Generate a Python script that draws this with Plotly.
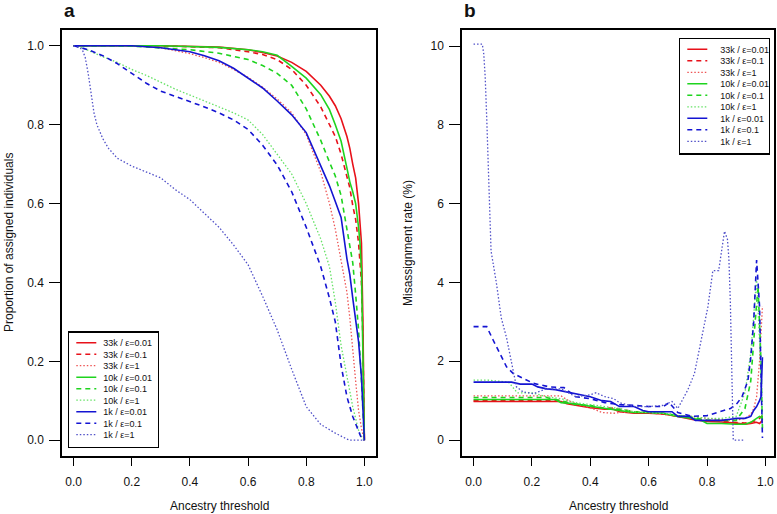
import plotly.graph_objects as go

# ---------------- data ----------------
labels = ["33k / ε=0.01", "33k / ε=0.1", "33k / ε=1",
          "10k / ε=0.01", "10k / ε=0.1", "10k / ε=1",
          "1k / ε=0.01", "1k / ε=0.1", "1k / ε=1"]

# Panel a: proportion of assigned individuals vs ancestry threshold
a_33k_001_x = [0, 0.3, 0.5, 0.6, 0.65, 0.7, 0.75, 0.8, 0.85, 0.88, 0.9, 0.92, 0.94, 0.95, 0.96, 0.97, 0.98, 0.985, 0.99, 0.995, 1.0]
a_33k_001_y = [1.0, 1.0, 0.997, 0.99, 0.983, 0.974, 0.958, 0.935, 0.9, 0.872, 0.848, 0.815, 0.77, 0.74, 0.70, 0.665, 0.6, 0.56, 0.5, 0.3, 0.0]
a_33k_01_x = [0, 0.3, 0.5, 0.6, 0.65, 0.7, 0.75, 0.8, 0.85, 0.88, 0.9, 0.92, 0.94, 0.95, 0.96, 0.97, 0.98, 0.985, 0.99, 0.995, 1.0]
a_33k_01_y = [1.0, 1.0, 0.995, 0.985, 0.978, 0.965, 0.94, 0.9, 0.845, 0.8, 0.77, 0.725, 0.67, 0.64, 0.595, 0.56, 0.5, 0.46, 0.4, 0.25, 0.0]
a_33k_1_x = [0, 0.2, 0.3, 0.4, 0.45, 0.5, 0.55, 0.6, 0.65, 0.7, 0.75, 0.8, 0.85, 0.88, 0.9, 0.92, 0.94, 0.95, 0.96, 0.97, 0.98, 0.99, 1.0]
a_33k_1_y = [1.0, 1.0, 0.995, 0.98, 0.97, 0.958, 0.94, 0.92, 0.895, 0.865, 0.83, 0.775, 0.68, 0.6, 0.535, 0.455, 0.375, 0.31, 0.22, 0.15, 0.076, 0.03, 0.0]
a_10k_001_x = [0, 0.3, 0.5, 0.6, 0.65, 0.7, 0.75, 0.8, 0.85, 0.88, 0.9, 0.92, 0.94, 0.95, 0.96, 0.97, 0.98, 0.985, 0.99, 0.995, 1.0]
a_10k_001_y = [1.0, 1.0, 0.996, 0.99, 0.985, 0.976, 0.948, 0.918, 0.876, 0.838, 0.8, 0.758, 0.69, 0.655, 0.63, 0.6, 0.54, 0.5, 0.43, 0.25, 0.0]
a_10k_01_x = [0, 0.2, 0.4, 0.5, 0.6, 0.65, 0.7, 0.75, 0.8, 0.85, 0.88, 0.9, 0.92, 0.94, 0.95, 0.96, 0.97, 0.98, 0.99, 0.995, 1.0]
a_10k_01_y = [1.0, 0.999, 0.99, 0.981, 0.965, 0.95, 0.93, 0.9, 0.84, 0.76, 0.705, 0.67, 0.62, 0.54, 0.5, 0.45, 0.37, 0.28, 0.15, 0.08, 0.0]
a_10k_1_x = [0, 0.03, 0.06, 0.1, 0.15, 0.2, 0.25, 0.3, 0.35, 0.4, 0.45, 0.5, 0.55, 0.6, 0.65, 0.7, 0.75, 0.8, 0.85, 0.88, 0.9, 0.92, 0.94, 0.96, 0.98, 0.99, 1.0]
a_10k_1_y = [1.0, 0.995, 0.985, 0.972, 0.958, 0.94, 0.925, 0.907, 0.89, 0.875, 0.86, 0.845, 0.83, 0.812, 0.775, 0.725, 0.675, 0.6, 0.51, 0.44, 0.35, 0.24, 0.16, 0.085, 0.025, 0.008, 0.0]
a_1k_001_x = [0, 0.2, 0.3, 0.35, 0.4, 0.45, 0.5, 0.55, 0.6, 0.65, 0.7, 0.75, 0.8, 0.85, 0.88, 0.9, 0.92, 0.94, 0.95, 0.96, 0.97, 0.98, 0.99, 0.995, 1.0]
a_1k_001_y = [1.0, 1.0, 0.995, 0.99, 0.985, 0.975, 0.962, 0.943, 0.918, 0.893, 0.86, 0.825, 0.78, 0.695, 0.645, 0.605, 0.565, 0.46, 0.42, 0.36, 0.3, 0.25, 0.16, 0.07, 0.0]
a_1k_01_x = [0, 0.05, 0.1, 0.15, 0.2, 0.25, 0.3, 0.35, 0.4, 0.45, 0.5, 0.55, 0.6, 0.65, 0.7, 0.75, 0.8, 0.85, 0.88, 0.9, 0.92, 0.94, 0.96, 0.98, 0.99, 1.0]
a_1k_01_y = [1.0, 0.99, 0.975, 0.955, 0.93, 0.905, 0.885, 0.872, 0.86, 0.845, 0.83, 0.812, 0.788, 0.748, 0.698, 0.63, 0.54, 0.44, 0.36, 0.3, 0.19, 0.11, 0.06, 0.02, 0.005, 0.0]
a_1k_1_x = [0, 0.02, 0.03, 0.04, 0.05, 0.06, 0.07, 0.08, 0.09, 0.1, 0.12, 0.15, 0.2, 0.25, 0.3, 0.35, 0.4, 0.45, 0.5, 0.55, 0.6, 0.65, 0.7, 0.75, 0.8, 0.85, 0.9, 0.94, 0.95, 1.0]
a_1k_1_y = [1.0, 0.995, 0.99, 0.97, 0.93, 0.88, 0.83, 0.80, 0.78, 0.765, 0.74, 0.715, 0.695, 0.68, 0.665, 0.635, 0.61, 0.575, 0.54, 0.495, 0.445, 0.365, 0.28, 0.18, 0.085, 0.04, 0.018, 0.003, 0.0, 0.0]

# Panel b: misassignment rate (%) vs ancestry threshold
b_33k_001_x = [0, 0.3, 0.32, 0.35, 0.4, 0.45, 0.48, 0.5, 0.55, 0.6, 0.65, 0.7, 0.75, 0.8, 0.85, 0.9, 0.93, 0.95, 0.97, 0.98, 0.99]
b_33k_001_y = [0.98, 0.98, 0.92, 0.88, 0.82, 0.78, 0.78, 0.72, 0.68, 0.68, 0.66, 0.6, 0.52, 0.47, 0.46, 0.43, 0.40, 0.42, 0.45, 0.42, 0.5]
b_33k_01_x = [0, 0.3, 0.32, 0.35, 0.4, 0.45, 0.48, 0.5, 0.55, 0.6, 0.65, 0.7, 0.75, 0.8, 0.85, 0.9, 0.93, 0.95, 0.97, 0.98, 0.99]
b_33k_01_y = [1.0, 1.0, 0.95, 0.9, 0.85, 0.8, 0.82, 0.78, 0.72, 0.7, 0.66, 0.6, 0.55, 0.5, 0.48, 0.45, 0.43, 0.45, 0.5, 0.55, 0.62]
b_33k_1_x = [0, 0.3, 0.33, 0.36, 0.4, 0.44, 0.48, 0.5, 0.55, 0.6, 0.65, 0.7, 0.75, 0.8, 0.85, 0.9, 0.93, 0.95, 0.96, 0.97, 0.98, 0.99]
b_33k_1_y = [1.12, 1.12, 0.98, 0.9, 0.82, 0.7, 0.68, 0.7, 0.7, 0.7, 0.68, 0.62, 0.6, 0.55, 0.52, 0.5, 0.55, 0.65, 0.8, 1.1, 2.0, 3.4]
b_10k_001_x = [0, 0.28, 0.3, 0.35, 0.4, 0.45, 0.5, 0.55, 0.6, 0.65, 0.7, 0.75, 0.78, 0.8, 0.85, 0.9, 0.93, 0.95, 0.97, 0.98, 0.99]
b_10k_001_y = [1.03, 1.03, 0.95, 0.92, 0.86, 0.8, 0.75, 0.7, 0.7, 0.68, 0.6, 0.55, 0.5, 0.42, 0.42, 0.4, 0.4, 0.45, 0.55, 0.6, 0.55]
b_10k_01_x = [0, 0.25, 0.3, 0.35, 0.4, 0.45, 0.5, 0.55, 0.6, 0.65, 0.7, 0.75, 0.8, 0.85, 0.9, 0.93, 0.95, 0.965, 0.975, 0.985, 0.99]
b_10k_01_y = [1.08, 1.08, 1.0, 0.9, 0.88, 0.8, 0.78, 0.72, 0.7, 0.68, 0.62, 0.58, 0.5, 0.5, 0.5, 0.8, 1.5, 3.0, 3.9, 2.0, 0.3]
b_10k_1_x = [0, 0.05, 0.12, 0.15, 0.2, 0.25, 0.3, 0.35, 0.4, 0.45, 0.5, 0.55, 0.6, 0.65, 0.7, 0.75, 0.8, 0.85, 0.9, 0.93, 0.95, 0.97, 0.98, 0.99]
b_10k_1_y = [1.52, 1.52, 1.47, 1.2, 1.2, 1.1, 1.05, 0.95, 0.9, 0.85, 0.8, 0.72, 0.7, 0.68, 0.62, 0.6, 0.55, 0.55, 0.6, 1.2, 2.2, 4.1, 2.5, 0.6]
b_1k_001_x = [0, 0.13, 0.16, 0.2, 0.22, 0.25, 0.28, 0.3, 0.34, 0.37, 0.4, 0.44, 0.47, 0.5, 0.55, 0.58, 0.6, 0.65, 0.68, 0.7, 0.74, 0.76, 0.8, 0.85, 0.88, 0.9, 0.93, 0.95, 0.96, 0.97, 0.98, 0.985, 0.99]
b_1k_001_y = [1.47, 1.47, 1.42, 1.42, 1.35, 1.3, 1.28, 1.25, 1.18, 1.15, 1.1, 1.0, 0.98, 0.85, 0.85, 0.75, 0.72, 0.72, 0.72, 0.6, 0.6, 0.5, 0.5, 0.5, 0.53, 0.55, 0.55, 0.6, 0.75, 0.85, 1.0, 1.1, 2.1]
b_1k_01_x = [0, 0.045, 0.067, 0.09, 0.113, 0.136, 0.17, 0.205, 0.26, 0.31, 0.35, 0.4, 0.45, 0.5, 0.55, 0.6, 0.65, 0.67, 0.7, 0.75, 0.8, 0.84, 0.88, 0.9, 0.92, 0.94, 0.95, 0.96, 0.97, 0.98, 0.985, 0.99]
b_1k_01_y = [2.88, 2.88, 2.54, 2.2, 1.86, 1.69, 1.57, 1.44, 1.35, 1.33, 1.1, 1.05, 0.95, 0.9, 0.88, 0.85, 0.85, 0.95, 0.7, 0.6, 0.62, 0.7, 0.8, 0.9, 1.1, 1.5, 2.1, 3.0, 4.57, 3.4, 1.7, 0.05]
b_1k_1_x = [0, 0.03, 0.035, 0.04, 0.045, 0.05, 0.055, 0.06, 0.078, 0.095, 0.113, 0.124, 0.136, 0.147, 0.17, 0.205, 0.25, 0.3, 0.35, 0.4, 0.42, 0.45, 0.48, 0.5, 0.55, 0.6, 0.65, 0.68, 0.7, 0.734, 0.757, 0.78, 0.803, 0.82, 0.84, 0.85, 0.86, 0.87, 0.875, 0.88, 0.885, 0.89, 0.93]
b_1k_1_y = [10.05, 10.05, 9.8, 9.2, 8.2, 7.2, 6.0, 4.8, 4.0, 3.1, 2.6, 2.2, 1.69, 1.35, 1.22, 1.18, 1.3, 1.3, 1.1, 1.15, 1.2, 1.1, 1.05, 0.95, 0.85, 0.85, 0.88, 0.98, 0.8, 1.27, 1.69, 2.54, 3.38, 4.3, 4.3, 4.8, 5.3, 5.1, 4.6, 3.5, 1.5, 0.0, 0.0]

panel_a = [(a_33k_001_x, a_33k_001_y), (a_33k_01_x, a_33k_01_y), (a_33k_1_x, a_33k_1_y),
           (a_10k_001_x, a_10k_001_y), (a_10k_01_x, a_10k_01_y), (a_10k_1_x, a_10k_1_y),
           (a_1k_001_x, a_1k_001_y), (a_1k_01_x, a_1k_01_y), (a_1k_1_x, a_1k_1_y)]
panel_b = [(b_33k_001_x, b_33k_001_y), (b_33k_01_x, b_33k_01_y), (b_33k_1_x, b_33k_1_y),
           (b_10k_001_x, b_10k_001_y), (b_10k_01_x, b_10k_01_y), (b_10k_1_x, b_10k_1_y),
           (b_1k_001_x, b_1k_001_y), (b_1k_01_x, b_1k_01_y), (b_1k_1_x, b_1k_1_y)]

a_ticks = [0.0, 0.2, 0.4, 0.6, 0.8, 1.0]
a_tick_text = ["0.0", "0.2", "0.4", "0.6", "0.8", "1.0"]
b_yticks = [0, 2, 4, 6, 8, 10]
b_ytick_text = ["0", "2", "4", "6", "8", "10"]

# ---------------- styles ----------------
colors = ["#E8111A", "#E8111A", "#EE5555", "#1ED41E", "#1ED41E", "#66E266", "#1414D2", "#1414D2", "#5050C8"]
dashes = ["solid", "5px,4px", "1.5px,2px"] * 3
widths = [1.6, 1.6, 1.3] * 3
FONT = "Liberation Sans, Arial, Helvetica, sans-serif"

fig = go.Figure()
for i, (xs, ys) in enumerate(panel_a):
    fig.add_trace(go.Scatter(x=xs, y=ys, mode="lines", name=labels[i],
                             line=dict(color=colors[i], dash=dashes[i], width=widths[i]),
                             xaxis="x", yaxis="y", legend="legend"))
for i, (xs, ys) in enumerate(panel_b):
    fig.add_trace(go.Scatter(x=xs, y=ys, mode="lines", name=labels[i],
                             line=dict(color=colors[i], dash=dashes[i], width=widths[i]),
                             xaxis="x2", yaxis="y2", legend="legend2"))

W, H = 777, 514
ax_common = dict(showline=True, linecolor="black", linewidth=1.5, mirror=True,
                 ticks="outside", tickcolor="black", tickwidth=1.2,
                 showgrid=False, zeroline=False,
                 tickfont=dict(family=FONT, size=12, color="#111"))
ydom = [1 - 456 / H, 1 - 30 / H]

fig.update_layout(
    width=W, height=H,
    margin=dict(l=0, r=0, t=0, b=0),
    paper_bgcolor="white", plot_bgcolor="white",
    font=dict(family=FONT, color="#111"),
    xaxis=dict(domain=[62 / W, 376 / W], range=[-0.04, 1.04], tickvals=a_ticks, ticktext=a_tick_text,
               ticklen=8, ticklabelstandoff=6, anchor="y", **ax_common),
    yaxis=dict(domain=ydom, range=[-0.04, 1.04], tickvals=a_ticks, ticktext=a_tick_text,
               ticklen=11, ticklabelstandoff=3, anchor="x", **ax_common),
    xaxis2=dict(domain=[462 / W, 774 / W], range=[-0.0396, 1.0296], tickvals=a_ticks, ticktext=a_tick_text,
                ticklen=8, ticklabelstandoff=6, anchor="y2", **ax_common),
    yaxis2=dict(domain=ydom, range=[-0.405, 10.41], tickvals=b_yticks, ticktext=b_ytick_text,
                ticklen=11, ticklabelstandoff=3, anchor="x2", **ax_common),
    legend=dict(x=68 / W, y=1 - 448 / H, xanchor="left", yanchor="bottom",
                bgcolor="white", bordercolor="black", borderwidth=1.3,
                font=dict(family=FONT, size=9, color="#111"), itemwidth=30,
                tracegroupgap=0),
    legend2=dict(x=770 / W, y=1 - 38 / H, xanchor="right", yanchor="top",
                 bgcolor="white", bordercolor="black", borderwidth=1.3,
                 font=dict(family=FONT, size=9, color="#111"), itemwidth=30,
                 tracegroupgap=0),
    showlegend=True,
)

annotations = [
    dict(text="<b>a</b>", x=62 / W, y=1 - 10 / H, xanchor="left", yanchor="middle", font=dict(size=19)),
    dict(text="<b>b</b>", x=462 / W, y=1 - 10 / H, xanchor="left", yanchor="middle", font=dict(size=19)),
    dict(text="Ancestry threshold", x=219 / W, y=1 - 506 / H, xanchor="center", yanchor="middle", font=dict(size=12)),
    dict(text="Ancestry threshold", x=618 / W, y=1 - 506 / H, xanchor="center", yanchor="middle", font=dict(size=12)),
    dict(text="Proportion of assigned individuals", x=9 / W, y=1 - 243 / H, textangle=-90,
         xanchor="center", yanchor="middle", font=dict(size=12)),
    dict(text="Misassignment rate (%)", x=408 / W, y=1 - 243 / H, textangle=-90,
         xanchor="center", yanchor="middle", font=dict(size=12)),
]
for a in annotations:
    a.update(xref="paper", yref="paper", showarrow=False)
    a["font"].update(family=FONT, color="#111")
fig.update_layout(annotations=annotations)

# Page tweaks: no body margin; tighten legend row spacing (R-style compact legend)
post_js = r"""
document.body.style.margin='0';
document.body.style.overflow='hidden';
var gd = document.getElementById('{plot_id}');
var STEP = 11.5, TOP = 11.3, BOT = 12.0, SHIFT = 6;
var re = /translate\(\s*([-\d.e]+)[\s,]+([-\d.e]+)\s*\)/;
[['legend', 'bottom'], ['legend2', 'topright']].forEach(function(cfg){
  var leg = gd.querySelector('g.' + cfg[0]);
  if(!leg) return;
  var bg = leg.querySelector('rect.bg');
  var items = leg.querySelectorAll('g.traces');
  var n = items.length;
  if(!bg || !n) return;
  var oldH = parseFloat(bg.getAttribute('height'));
  var oldW = parseFloat(bg.getAttribute('width'));
  items.forEach(function(it, i){
    var m = re.exec(it.getAttribute('transform') || '');
    var x = m ? parseFloat(m[1]) : 0;
    it.setAttribute('transform', 'translate(' + x + ',' + (TOP + i * STEP) + ')');
    var t = it.querySelector('text.legendtext');
    if(t && t.getAttribute('x')){ t.setAttribute('x', parseFloat(t.getAttribute('x')) - SHIFT); }
    it.querySelectorAll('.legendlines path').forEach(function(p){ p.setAttribute('d', 'M7,0h20'); });
  });
  var newH = TOP + (n - 1) * STEP + BOT;
  bg.setAttribute('height', newH);
  bg.setAttribute('width', oldW - SHIFT);
  var m2 = re.exec(leg.getAttribute('transform') || '');
  if(m2){
    var lx = parseFloat(m2[1]), ly = parseFloat(m2[2]);
    if(cfg[1] === 'bottom'){ ly += oldH - newH; } else { lx += SHIFT; }
    leg.setAttribute('transform', 'translate(' + lx + ',' + ly + ')');
  }
});
"""

fig.write_html("out.html", config={"displayModeBar": False}, post_script=post_js)
